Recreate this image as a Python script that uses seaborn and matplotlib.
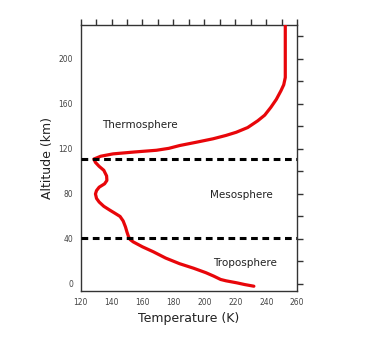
import matplotlib
matplotlib.use("Agg")
import matplotlib.pyplot as plt
from matplotlib.ticker import MultipleLocator
import seaborn as sns
import pandas as pd

# temperature profile
temperature = [232, 226, 221, 214, 210.5, 206, 201, 193, 184, 175, 167, 160,
               154, 152, 151, 150, 149, 147.5, 145.5, 142, 139, 135, 132,
               130.3, 129.6, 130.3, 132, 135.5, 137, 136.8, 135, 132, 129.6,
               128.6, 133, 141, 155, 169, 177, 184, 195, 205.6, 214, 220.6,
               228, 234.5, 239, 243, 246.5, 249.5, 251.3, 252.3, 252.3]
altitude = [-2, -0.5, 1, 2.8, 4, 7, 10, 14, 18, 23, 28.6, 33,
            37.4, 39.5, 42, 46, 50.7, 56, 60, 63, 65.5, 69, 72.8,
            76, 80, 83, 86, 89, 92, 96, 101, 104.5, 108,
            111, 113.5, 115.6, 117.3, 118.8, 120.5, 123, 126, 129, 132, 134.8,
            139, 145, 150, 157, 164, 171.7, 177, 183.5, 231]
boundaries = [111, 40.5]
layer_names = ["Thermosphere", "Mesosphere", "Troposphere"]
layer_pos = [(158, 141), (224, 79), (226, 19)]

df = pd.DataFrame({"Temperature": temperature, "Altitude": altitude})

sns.set_style("white")
plt.rcParams["font.family"] = ["DejaVu Sans"]

fig = plt.figure(figsize=(3.82, 3.49), dpi=100)
ax = fig.add_axes([0.211, 0.167, 0.567, 0.761])

sns.lineplot(data=df, x="Temperature", y="Altitude", sort=False, estimator=None,
             color="#e8060a", lw=2.3, ax=ax, zorder=3)
ax.lines[0].set_solid_joinstyle("round")
ax.lines[0].set_solid_capstyle("round")

for b in boundaries:
    ax.axhline(b, color="black", lw=2.2, ls=(0, (2.2, 1.5)), zorder=4)

for name, (tx, ty) in zip(layer_names, layer_pos):
    ax.text(tx, ty, name, ha="center", va="center", fontsize=7.5, color="#222222")

ax.set_xlim(120, 260)
ax.set_ylim(-6, 230)
ax.xaxis.set_major_locator(MultipleLocator(20))
ax.xaxis.set_minor_locator(MultipleLocator(10))
ax.yaxis.set_major_locator(MultipleLocator(40))
ax.yaxis.set_minor_locator(MultipleLocator(20))
ax.tick_params(which="both", direction="out", top=True, right=True,
               labeltop=False, labelright=False, color="#333333", width=1)
ax.tick_params(which="major", length=4, labelsize=5.5, labelcolor="#444444", pad=1.5)
ax.tick_params(which="minor", length=4)
for s in ax.spines.values():
    s.set_color("#333333")
    s.set_linewidth(1)

ax.set_xlabel("Temperature (K)", fontsize=9, color="#222222", labelpad=3)
ax.set_ylabel("Altitude (km)", fontsize=9, color="#222222", labelpad=3)

fig.savefig("out.png", dpi=100)
